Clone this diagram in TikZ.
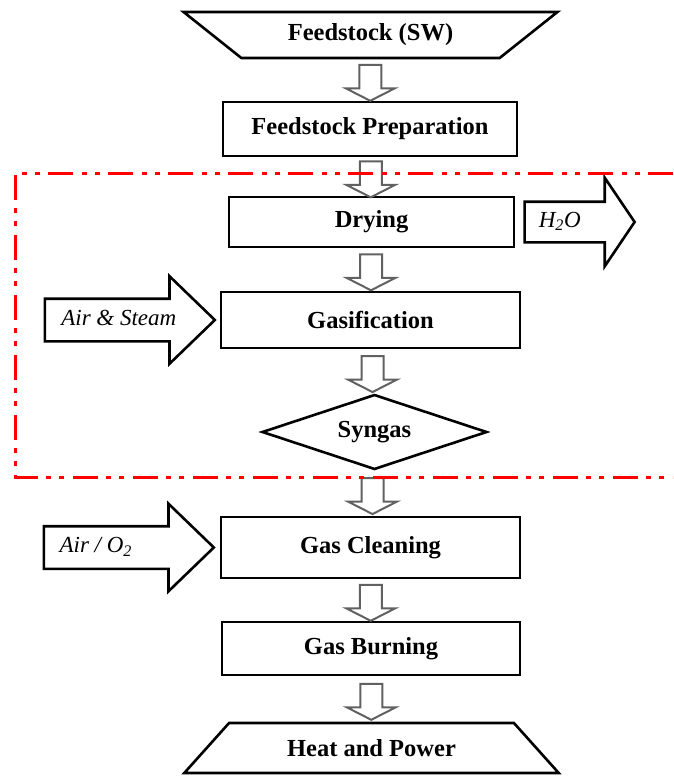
\documentclass[tikz,border=0pt]{standalone}
\usepackage{fontspec}
\setmainfont{Liberation Serif}
\usetikzlibrary{shapes.geometric, shapes.arrows, positioning, calc}

\begin{document}
\begin{tikzpicture}[x=1pt, y=-1pt, every node/.style={font=\fontsize{24.5}{28}\selectfont\bfseries}]
  \tikzset{
    stage/.style={draw, line width=2.6pt, fill=white, inner sep=0pt},
    endpoint/.style={stage, trapezium, trapezium stretches=true,
                     minimum width=375pt},
    down/.style={single arrow, draw=black!62, line width=2pt, fill=white,
                 shape border rotate=270, minimum width=47pt, minimum height=36pt,
                 single arrow head extend=13.5pt, single arrow tip angle=126,
                 inner sep=10pt},
    feed/.style={single arrow, draw, line width=2.6pt, fill=white,
                 minimum width=85pt, single arrow head extend=22.5pt,
                 text height=15pt, text depth=5pt, inner xsep=3pt, inner ysep=10pt,
                 font=\fontsize{23}{27}\selectfont\itshape}
  }
  \useasboundingbox (0,0) rectangle (673,776);

  \node[endpoint, shape border rotate=180, trapezium left angle=31,
        trapezium right angle=31, minimum height=46pt] (src) at (370.5,35) {Feedstock (SW)};
  \node[stage, minimum width=294pt, minimum height=54pt] (prep) at (370,129) {Feedstock Preparation};
  \node[stage, minimum width=285pt, minimum height=50pt] (dry) at (371.5,222) {Drying};
  \node[stage, minimum width=299pt, minimum height=56pt] (gasif) at (370.5,320) {Gasification};
  \node[stage, diamond, aspect=3, minimum width=225pt, minimum height=75pt] (syngas) at (374.5,432) {Syngas};
  \node[stage, minimum width=299pt, minimum height=61pt] (clean) at (370.5,547.5) {Gas Cleaning};
  \node[stage, minimum width=298pt, minimum height=53pt] (burn) at (371,648.5) {Gas Burning};
  \node[endpoint, trapezium left angle=33, trapezium right angle=33,
        minimum height=50pt] (out) at (371.5,748) {Heat and Power};

  \node[down] (d1) at ($(src.south)!0.5!(prep.north)$) {};
  \node[down] (d2) at ($(prep.south)!0.5!(dry.north)$) {};
  \node[down] (d3) at ($(dry.south)!0.5!(gasif.north)$) {};
  \node[down] (d4) at ($(gasif.south)!0.5!(syngas.north)$) {};
  \node[down] (d5) at ($(syngas.south)!0.5!(clean.north)$) {};
  \node[down] (d6) at ($(clean.south)!0.5!(burn.north)$) {};
  \node[down] (d7) at ($(burn.south)!0.5!(out.north)$) {};

  \node[feed, minimum width=87pt, minimum height=110pt, single arrow head extend=24pt,
        inner ysep=9pt, single arrow tip angle=112,
        right=8pt of dry] (water) {H\textsubscript{2}O\hspace*{26pt}};
  \node[feed, minimum height=170pt, single arrow tip angle=88,
        left=3pt of gasif] (steam) {Air \& Steam};
  \node[feed, minimum height=170pt, single arrow tip angle=88,
        left=4pt of clean] (oxy) {Air / O\textsubscript{2}\hspace*{44pt}};

  \draw[red, line width=3pt, dash pattern=on 25pt off 8pt on 5pt off 8pt on 5pt off 9pt]
    (673,173) -- (15,173) -- (15,477) -- (673,477);
\end{tikzpicture}
\end{document}
